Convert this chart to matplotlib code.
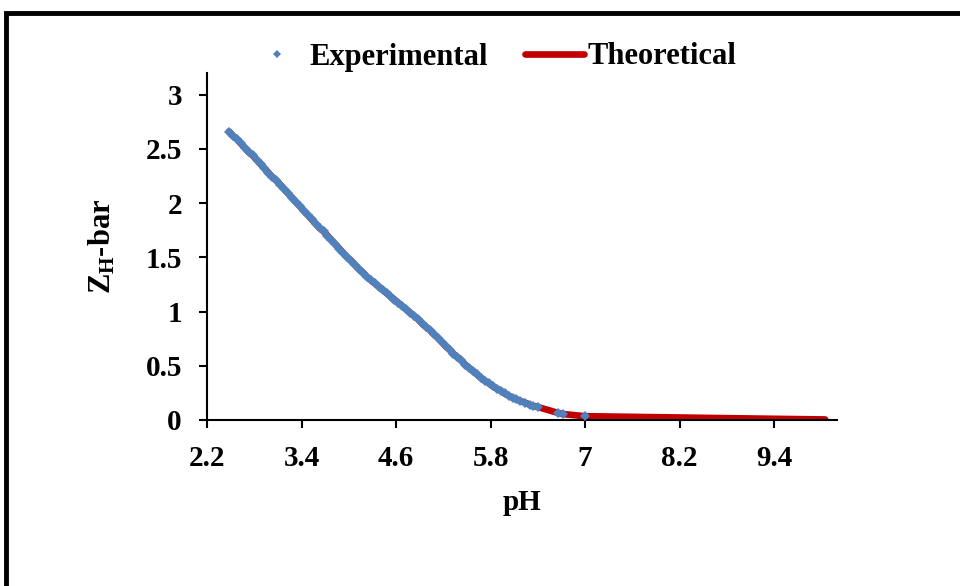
# ZH-bar vs pH, experimental points against theoretical curve
import numpy as np
import matplotlib
matplotlib.use("Agg")
from matplotlib import pyplot as plt
from matplotlib.patches import Rectangle

plt.rcParams['font.family'] = ['Liberation Serif', 'DejaVu Serif']
plt.rcParams['font.weight'] = 'bold'
plt.rcParams['mathtext.fontset'] = 'custom'
plt.rcParams['mathtext.rm'] = 'Liberation Serif:bold'
plt.rcParams['mathtext.it'] = 'Liberation Serif:bold'
plt.rcParams['mathtext.bf'] = 'Liberation Serif:bold'

ph_exp = [2.48, 2.53, 2.58, 2.63, 2.68, 2.73, 2.78, 2.83, 2.88, 2.93, 2.98, 3.03,
          3.08, 3.13, 3.18, 3.23, 3.28, 3.33, 3.38, 3.43, 3.48, 3.53, 3.58, 3.63,
          3.68, 3.73, 3.78, 3.83, 3.88, 3.93, 3.98, 4.03, 4.08, 4.13, 4.18, 4.23,
          4.28, 4.33, 4.38, 4.43, 4.48, 4.53, 4.58, 4.63, 4.68, 4.73, 4.78, 4.83,
          4.88, 4.93, 4.98, 5.03, 5.08, 5.13, 5.18, 5.23, 5.28, 5.33, 5.38, 5.43,
          5.48, 5.53, 5.58, 5.63, 5.68, 5.73, 5.78, 5.83, 5.88, 5.93, 5.98, 6.03,
          6.08, 6.13, 6.18, 6.24, 6.30, 6.34, 6.40, 6.66, 6.72, 7.00]
zh_exp = [2.66, 2.62, 2.59, 2.55, 2.51, 2.47, 2.44, 2.40, 2.36, 2.32, 2.28, 2.24,
          2.21, 2.17, 2.13, 2.09, 2.05, 2.01, 1.97, 1.93, 1.89, 1.85, 1.81, 1.77,
          1.74, 1.70, 1.66, 1.62, 1.58, 1.54, 1.50, 1.47, 1.43, 1.39, 1.36, 1.32,
          1.29, 1.26, 1.23, 1.20, 1.17, 1.14, 1.11, 1.08, 1.05, 1.02, 0.99, 0.96,
          0.93, 0.89, 0.86, 0.83, 0.79, 0.76, 0.72, 0.68, 0.65, 0.61, 0.58, 0.55,
          0.51, 0.48, 0.45, 0.42, 0.39, 0.36, 0.34, 0.31, 0.29, 0.27, 0.245, 0.225,
          0.205, 0.19, 0.175, 0.16, 0.14, 0.13, 0.12, 0.065, 0.055, 0.035]

# theoretical curve
ph_th = ph_exp + [7.5, 8.0, 8.5, 9.0, 9.5, 10.05]
zh_th = zh_exp + [0.03, 0.025, 0.02, 0.015, 0.01, 0.005]

xticks = [2.2, 3.4, 4.6, 5.8, 7.0, 8.2, 9.4]
xticklabels = ['2.2', '3.4', '4.6', '5.8', '7', '8.2', '9.4']
yticks = [0, 0.5, 1, 1.5, 2, 2.5, 3]
yticklabels = ['0', '0.5', '1', '1.5', '2', '2.5', '3']

fs = 21

fig = plt.figure(figsize=(9.6, 5.86), dpi=100)
ax = fig.add_axes([207/960, 1-420/586, 630/960, 347/586])

ax.plot(ph_th, zh_th, color='#C00000', lw=4.8, solid_capstyle='round', label='Theoretical', zorder=2)
ax.plot(ph_exp, zh_exp, ls='none', marker='D', ms=5.5, mew=0, color='#4F81BD', label='Experimental', zorder=3)

ax.set_xlim(2.2, 10.2)
ax.set_ylim(0, 3.2)
ax.set_xticks(xticks)
ax.set_xticklabels(xticklabels)
ax.set_yticks(yticks)
ax.set_yticklabels(yticklabels)
ax.tick_params(direction='out', length=6, width=1.5, labelsize=fs)
ax.tick_params(axis='x', pad=12)
ax.tick_params(axis='y', pad=12)

for s in ['top', 'right']:
    ax.spines[s].set_visible(False)
for s in ['left', 'bottom']:
    ax.spines[s].set_linewidth(1.5)

ax.set_xlabel('pH', fontsize=fs, fontweight='bold', labelpad=12)
ax.set_ylabel(r'$\mathrm{Z_H}$-bar', fontsize=fs + 1, fontweight='bold', labelpad=20)

h, l = ax.get_legend_handles_labels()
fig.legend([h[1], h[0]], [l[1], l[0]], loc='center', bbox_to_anchor=(0.512, 1-57/586),
           ncol=2, frameon=False, fontsize=fs + 1, markerscale=0.7, handlelength=1.95,
           columnspacing=1.2, handletextpad=0.1)

# outer frame
fig.patches.append(Rectangle((6/960, -0.2), 1.2, 1.2 - 13/586, transform=fig.transFigure,
                             fill=False, lw=3.5, edgecolor='black'))

fig.savefig('out.png', dpi=100)
